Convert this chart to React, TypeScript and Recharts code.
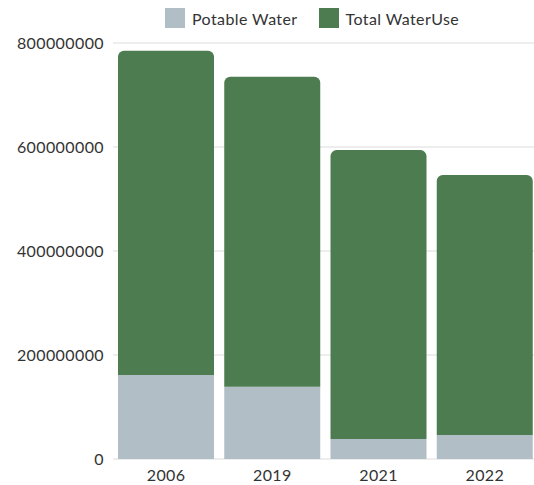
import { BarChart, Bar, XAxis, YAxis, CartesianGrid } from 'recharts';

const years = ['2006', '2019', '2021', '2022'];
const potableWater = [161500000, 139000000, 38500000, 46000000];
const totalWaterUse = [623500000, 596000000, 555500000, 500000000];
const yTicks = [0, 200000000, 400000000, 600000000, 800000000];

const POTABLE = '#b1bec6';
const TOTAL = '#4d7c51';
const FONT = 'Lato, "Open Sans", sans-serif';

const data = years.map((year, i) => ({
  year,
  potable: potableWater[i],
  total: totalWaterUse[i],
}));

const legendItems = [
  { label: 'Potable Water', color: POTABLE },
  { label: 'Total WaterUse', color: TOTAL },
];

const tickStyle = { fill: '#333', fontSize: 16, fontFamily: FONT, letterSpacing: 0.4 };

export default function App() {
  return (
    <div style={{ position: 'absolute', left: 0, top: 0, width: 534, height: 485, overflow: 'hidden' }}>
      <div
        style={{
          position: 'absolute',
          top: 8,
          left: 165,
          display: 'flex',
          alignItems: 'center',
          fontFamily: FONT,
          fontSize: 16,
          letterSpacing: 0.4,
          color: '#333',
          whiteSpace: 'nowrap',
        }}
      >
        {legendItems.map((it, i) => (
          <div key={it.label} style={{ display: 'flex', alignItems: 'center', marginRight: i === 0 ? 21 : 0 }}>
            <span style={{ width: 20, height: 20, background: it.color, display: 'inline-block', marginRight: 7 }} />
            {it.label}
          </div>
        ))}
      </div>
      <BarChart
        width={538}
        height={485}
        data={data}
        margin={{ top: 43, right: 0, left: 0, bottom: 0 }}
        barCategoryGap={5}
      >
        <CartesianGrid vertical={false} stroke="#dcdcdc" />
        <XAxis dataKey="year" height={26} tickLine={false} axisLine={false} tickMargin={5} tick={tickStyle} />
        <YAxis
          width={113}
          domain={[0, 800000000]}
          ticks={yTicks}
          tickLine={false}
          axisLine={false}
          tickMargin={3}
          tick={tickStyle}
        />
        <Bar dataKey="potable" name="Potable Water" stackId="a" fill={POTABLE} isAnimationActive={false} />
        <Bar
          dataKey="total"
          name="Total WaterUse"
          stackId="a"
          fill={TOTAL}
          radius={[6, 6, 0, 0]}
          isAnimationActive={false}
        />
      </BarChart>
    </div>
  );
}
